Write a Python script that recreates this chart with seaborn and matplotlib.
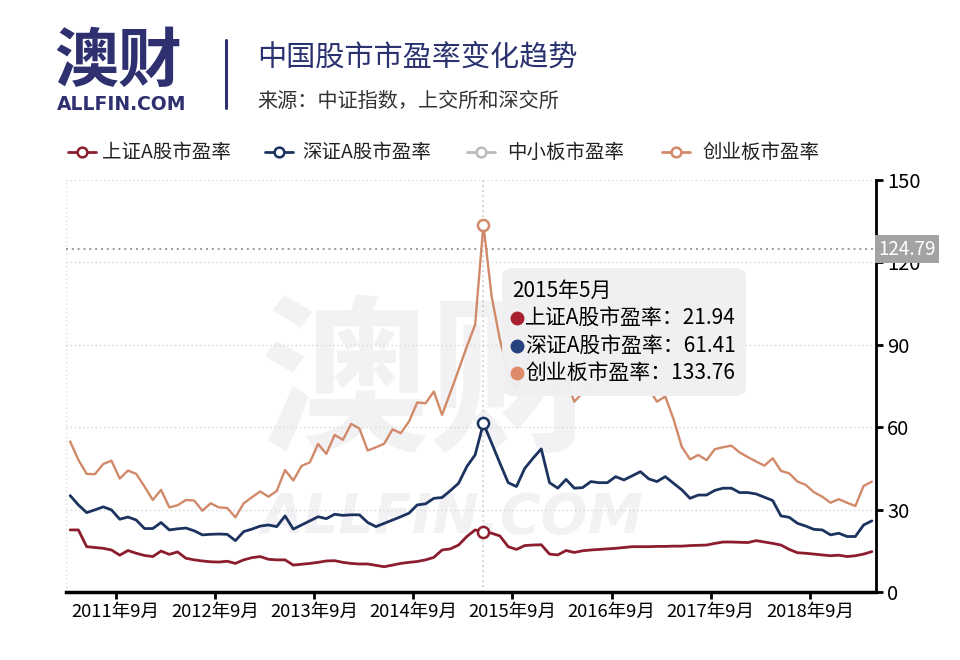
import numpy as np
import pandas as pd
import seaborn as sns
import matplotlib.pyplot as plt
from matplotlib.lines import Line2D
from matplotlib.patches import FancyBboxPatch
from matplotlib.transforms import blended_transform_factory

# monthly data, 2011-03 .. 2019-04
months = pd.date_range('2011-03-01', '2019-04-01', freq='MS')

sh_pe = [22.6, 22.6, 16.5, 16.2, 15.9, 15.3, 13.4, 15.1, 14.1, 13.3,
         12.9, 14.9, 13.7, 14.6, 12.3, 11.7, 11.3, 11.0, 10.9, 11.2,
         10.4, 11.7, 12.5, 12.9, 11.9, 11.7, 11.7, 9.8, 10.1, 10.4,
         10.8, 11.3, 11.4, 10.8, 10.4, 10.2, 10.2, 9.7, 9.2, 9.8,
         10.4, 10.8, 11.1, 11.7, 12.6, 15.3, 15.7, 17.1, 20.2, 22.6,
         21.94, 21.4, 20.4, 16.5, 15.5, 16.9, 17.1, 17.2, 13.8, 13.5,
         15.1, 14.4, 15.0, 15.3, 15.5, 15.7, 15.9, 16.2, 16.5, 16.5,
         16.5, 16.6, 16.6, 16.7, 16.7, 16.9, 17.0, 17.1, 17.7, 18.2,
         18.2, 18.1, 18.0, 18.7, 18.2, 17.7, 17.1, 15.5, 14.3, 14.1,
         13.8, 13.5, 13.2, 13.4, 12.9, 13.2, 13.8, 14.7]

sz_pe = [35.1, 31.7, 28.9, 29.9, 31.0, 29.9, 26.5, 27.3, 26.2, 23.1,
         23.1, 25.3, 22.6, 23.0, 23.3, 22.3, 20.8, 21.0, 21.1, 21.0,
         18.7, 22.0, 22.9, 24.0, 24.4, 23.8, 27.7, 22.9, 24.4, 25.9,
         27.4, 26.7, 28.3, 27.9, 28.1, 28.1, 25.3, 23.8, 25.0, 26.2,
         27.4, 28.7, 31.7, 32.1, 34.1, 34.4, 36.9, 39.6, 45.7, 49.9,
         61.41, 54.2, 46.9, 39.8, 38.4, 45.0, 48.7, 52.1, 39.8, 37.8,
         41.0, 37.8, 38.0, 40.2, 39.8, 39.8, 42.0, 40.8, 42.3, 43.8,
         41.2, 40.2, 42.0, 39.6, 37.2, 34.1, 35.3, 35.3, 37.0, 37.8,
         37.8, 36.2, 36.2, 35.7, 34.5, 33.3, 27.7, 27.2, 25.0, 24.0,
         22.8, 22.6, 20.8, 21.4, 20.2, 20.2, 24.4, 25.9]

cyb_pe = [54.8, 48.1, 43.0, 42.9, 46.6, 47.8, 41.3, 44.2, 43.0, 38.4,
          33.5, 37.2, 30.8, 31.6, 33.5, 33.3, 29.6, 32.3, 30.8, 30.6,
          27.2, 32.3, 34.5, 36.6, 34.7, 36.8, 44.4, 40.6, 45.9, 47.2,
          53.9, 50.3, 57.2, 55.4, 61.2, 59.5, 51.5, 52.7, 54.0, 59.2,
          57.8, 62.1, 69.0, 68.7, 73.0, 64.5, 72.6, 80.9, 89.4, 97.3,
          133.76, 107.6, 91.8, 80.0, 74.0, 82.0, 88.0, 90.0, 76.0, 74.0,
          77.0, 69.3, 72.5, 76.0, 78.0, 76.0, 80.0, 78.0, 80.0, 77.0,
          74.0, 69.3, 71.2, 63.0, 52.9, 48.3, 49.9, 48.0, 52.0, 52.7,
          53.3, 50.8, 49.1, 47.5, 46.0, 48.7, 44.1, 43.2, 40.2, 39.0,
          36.3, 34.7, 32.5, 33.8, 32.5, 31.3, 38.6, 40.2]

series_names = ['上证A股市盈率', '深证A股市盈率', '中小板市盈率', '创业板市盈率']
line_colors = ['#8C1D2E', '#1C335F', '#BBBBBB', '#D18A69']
dot_colors = ['#A8202F', '#25427F', '#E08A6C']
hover_month = pd.Timestamp('2015-05-01')
pointer_value = 124.79

sns.set_theme(style='white')
plt.rcParams['font.family'] = ['Noto Sans CJK SC', 'DejaVu Sans']

W, H = 960, 660
fx = lambda px: px / W
fy = lambda py: 1 - py / H

fig = plt.figure(figsize=(9.6, 6.6), dpi=100)
ax = fig.add_axes([fx(66), 68 / H, 810 / W, 412 / H])
ax.set_facecolor('none')

df = pd.DataFrame({'idx': np.arange(len(months)), 'sh': sh_pe, 'sz': sz_pe, 'cyb': cyb_pe})

# watermark
fig.text(fx(429), fy(388), '澳财', fontsize=122, fontweight='heavy', color='#F2F2F5',
         ha='center', va='center', zorder=-2)
fig.text(fx(452), fy(518), 'ALLFIN.COM', fontsize=40, fontweight='heavy', fontstyle='italic',
         family='DejaVu Sans', color='#F2F2F5', ha='center', va='center', zorder=-2)

# grid
for v in range(30, 151, 30):
    ax.axhline(v, color='#D8D8D8', ls=(0, (1, 2)), lw=1, zorder=1)
ax.axvline(-0.5, color='#D8D8D8', ls=(0, (1, 2)), lw=1, zorder=1)

hover = months.get_loc(hover_month)
ax.axvline(hover, color='#C8C8C8', ls=(0, (1, 2)), lw=1.2, zorder=1)
ax.axhline(pointer_value, color='#9A9A9A', ls=(0, (1, 2)), lw=1.4, zorder=1)

for col, c, lw in [('cyb', line_colors[3], 1.7), ('sz', line_colors[1], 2.0), ('sh', line_colors[0], 2.0)]:
    sns.lineplot(data=df, x='idx', y=col, color=c, linewidth=lw, ax=ax, zorder=3, legend=False)
    ax.plot(hover, df[col][hover], 'o', mfc='white', mec=c, ms=8, mew=1.8, zorder=5)

ax.set_xlim(-0.5, len(months) - 0.5)
ax.set_ylim(0, 150)
ax.set_yticks(range(0, 151, 30))
sep_idx = [i for i, m in enumerate(months) if m.month == 9]
ax.set_xticks([i - 0.5 for i in sep_idx])
ax.set_xticklabels([f'{months[i].year}年9月' for i in sep_idx])
ax.set_xlabel('')
ax.set_ylabel('')

for s in ['left', 'top']:
    ax.spines[s].set_visible(False)
ax.spines['right'].set_linewidth(2)
ax.spines['right'].set_color('black')
ax.spines['bottom'].set_linewidth(2.5)
ax.spines['bottom'].set_color('black')
ax.yaxis.tick_right()
ax.tick_params(axis='y', right=True, left=False, length=5, width=2, labelsize=14.5, pad=3,
               colors='black')
ax.tick_params(axis='x', bottom=True, length=5, width=2, labelsize=13.3, pad=3, colors='black')
ax.grid(False)

trans = blended_transform_factory(ax.transAxes, ax.transData)
ax.text(1.003, pointer_value, '124.79', transform=trans, ha='left', va='center', color='white',
        fontsize=13.5, bbox=dict(fc='#A3A3A3', ec='none', pad=2.5), zorder=6, clip_on=False)

# header
fig.text(fx(54), fy(62), '澳财', fontsize=46, fontweight='heavy', color='#2E3070',
         ha='left', va='center')
fig.text(fx(57), fy(104), 'ALLFIN.COM', fontsize=13.5, fontweight='bold', family='DejaVu Sans',
         color='#2E3070', ha='left', va='center')
fig.add_artist(Line2D([fx(226), fx(226)], [fy(40), fy(108)], color='#2E3070', lw=2.2,
                      transform=fig.transFigure))
fig.text(fx(257), fy(58), '中国股市市盈率变化趋势', fontsize=21, color='#2B3270',
         ha='left', va='center')
fig.text(fx(257), fy(101), '来源：中证指数，上交所和深交所', fontsize=14.5, color='#333333',
         ha='left', va='center')

# legend
leg_handles_x = [68, 265, 467, 662]
leg_text_x = [102, 302, 507, 702]
for name, c, hx, tx in zip(series_names, line_colors, leg_handles_x, leg_text_x):
    fig.add_artist(Line2D([fx(hx), fx(hx + 28)], [fy(152), fy(152)], color=c, lw=2,
                          transform=fig.transFigure))
    fig.add_artist(Line2D([fx(hx + 14)], [fy(152)], marker='o', ms=7, mfc='white', mec=c, mew=1.8,
                          transform=fig.transFigure))
    fig.text(fx(tx), fy(152), name, fontsize=14, color='#222222', ha='left', va='center')

# tooltip
box = FancyBboxPatch((fx(502), fy(396)), fx(746) - fx(502), fy(268) - fy(396),
                     boxstyle='round,pad=0,rounding_size=0.012', transform=fig.transFigure,
                     fc='#F0F0F2', ec='none', alpha=0.97, zorder=10)
fig.add_artist(box)
fig.text(fx(512), fy(291), f'{hover_month.year}年{hover_month.month}月', fontsize=15,
         color='black', ha='left', va='center', zorder=11)
tip_rows = [(series_names[0], sh_pe[hover], dot_colors[0]),
            (series_names[1], sz_pe[hover], dot_colors[1]),
            (series_names[3], cyb_pe[hover], dot_colors[2])]
for k, (name, val, c) in enumerate(tip_rows):
    yy = 318 + k * 27.5
    fig.add_artist(Line2D([fx(517)], [fy(yy)], marker='o', ms=9, mfc=c, mec=c,
                          transform=fig.transFigure, zorder=11))
    fig.text(fx(525), fy(yy), f'{name}：{val:.2f}', fontsize=15, color='black',
             ha='left', va='center', zorder=11)

fig.savefig('out.png', dpi=100)
